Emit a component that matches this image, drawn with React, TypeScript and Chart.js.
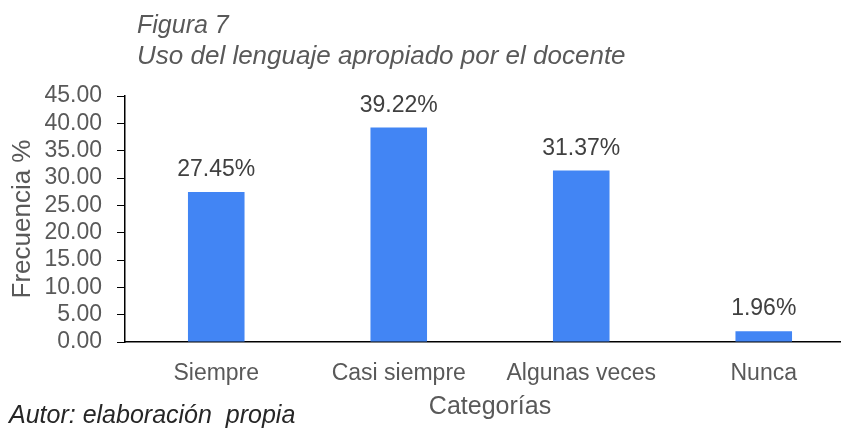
import React, { useEffect, useRef } from "react";
import { Chart, registerables } from "chart.js";

Chart.register(...registerables);

const categories = ["Siempre", "Casi siempre", "Algunas veces", "Nunca"];
const frecuencia = [27.45, 39.22, 31.37, 1.96];
const yMin = 0;
const yMax = 45;
const yStep = 5;
const titleText = "Figura 7";
const subtitleText = "Uso del lenguaje apropiado por el docente";
const authorText = "Autor: elaboración  propia";
const yAxisTitle = "Frecuencia %";
const xAxisTitle = "Categorías";

const FONT = "'Liberation Sans', Arial, sans-serif";

const textPlugin = {
  id: "customTexts",
  afterDatasetsDraw(chart: any) {
    const ctx = chart.ctx;
    ctx.save();
    // data labels
    const meta = chart.getDatasetMeta(0);
    ctx.font = `23px ${FONT}`;
    ctx.fillStyle = "#404040";
    ctx.textAlign = "center";
    ctx.textBaseline = "alphabetic";
    meta.data.forEach((bar: any, i: number) => {
      const v = chart.data.datasets[0].data[i] as number;
      ctx.fillText(`${v.toFixed(2)}%`, bar.x, bar.y - 16);
    });
    // titles
    ctx.textAlign = "left";
    ctx.fillStyle = "#595959";
    ctx.font = `italic 25px ${FONT}`;
    ctx.fillText(titleText, 137, 33);
    ctx.font = `italic 26px ${FONT}`;
    ctx.fillText(subtitleText, 137, 64);
    // author
    ctx.fillStyle = "#262626";
    ctx.font = `italic 25px ${FONT}`;
    ctx.fillText(authorText, 9, 423);
    ctx.restore();
  },
};

export default function App() {
  const ref = useRef<HTMLCanvasElement>(null);
  useEffect(() => {
    if (!ref.current) return;
    const chart = new Chart(ref.current, {
      type: "bar",
      data: {
        labels: categories,
        datasets: [
          {
            data: frecuencia,
            backgroundColor: "#4285F4",
            categoryPercentage: 1,
            barPercentage: 0.31,
          },
        ],
      },
      options: {
        responsive: false,
        animation: false,
        devicePixelRatio: 1,
        layout: { padding: { left: 0, top: 96, right: 15, bottom: 0 } },
        plugins: {
          legend: { display: false },
          tooltip: { enabled: false },
          title: { display: false },
        },
        scales: {
          x: {
            afterFit(scale: any) {
              scale.height = 86;
            },
            grid: { display: false },
            border: { display: true, color: "#000", width: 1.5 },
            ticks: {
              color: "#595959",
              font: { family: FONT, size: 23 },
              padding: 10,
              maxRotation: 0,
              autoSkip: false,
            },
            title: {
              display: true,
              text: xAxisTitle,
              color: "#595959",
              font: { family: FONT, size: 25 },
              padding: { top: 0, bottom: 6 },
            },
          },
          y: {
            min: yMin,
            max: yMax,
            afterFit(scale: any) {
              scale.width = 125;
            },
            grid: {
              drawOnChartArea: false,
              drawTicks: true,
              tickLength: 8,
              color: "#000",
              lineWidth: 1,
            },
            border: { display: true, color: "#000", width: 1.5 },
            ticks: {
              stepSize: yStep,
              autoSkip: false,
              color: "#595959",
              font: { family: FONT, size: 23 },
              padding: 15,
              callback: (v: any) => Number(v).toFixed(2),
            },
            title: {
              display: true,
              text: yAxisTitle,
              color: "#595959",
              font: { family: FONT, size: 26 },
              padding: { top: 7, bottom: 0 },
            },
          },
        },
      },
      plugins: [textPlugin],
    });
    return () => chart.destroy();
  }, []);
  return (
    <div
      style={{
        position: "fixed",
        left: 0,
        top: 0,
        width: 841,
        height: 428,
        overflow: "hidden",
        background: "#fff",
      }}
    >
      <canvas ref={ref} width={870} height={428} style={{ display: "block" }} />
    </div>
  );
}
